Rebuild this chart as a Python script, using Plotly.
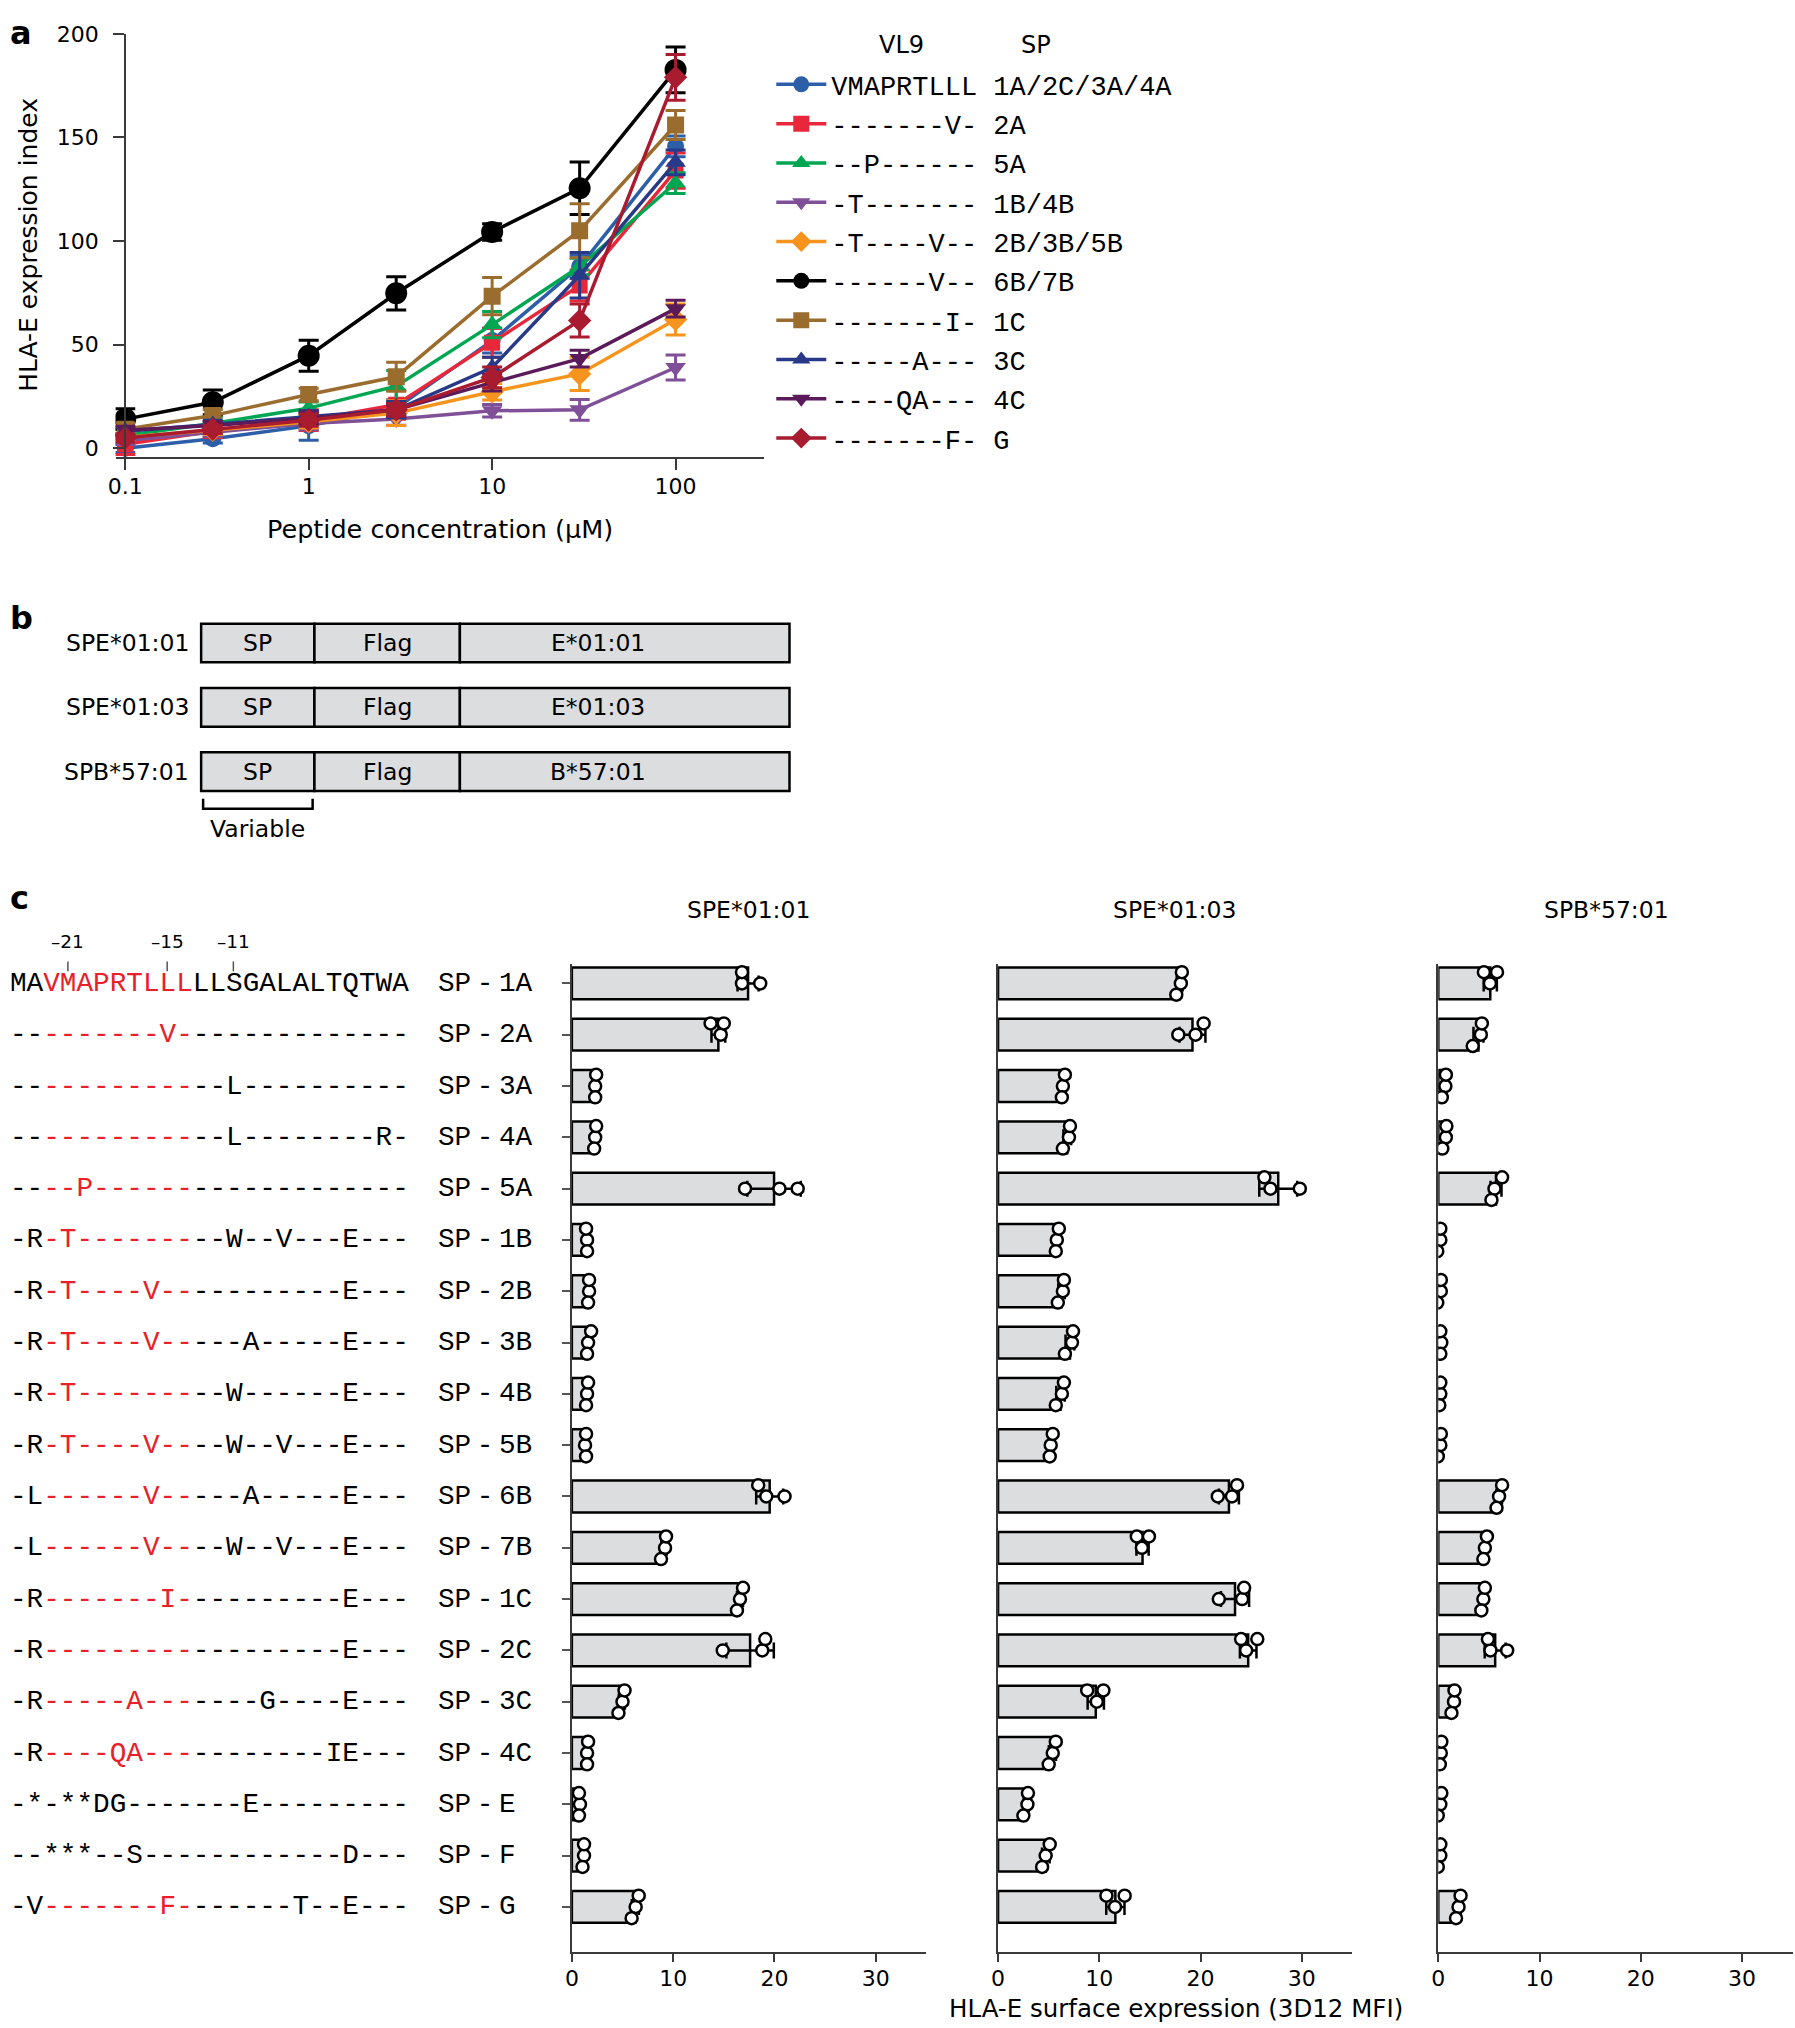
import numpy as np
import plotly.graph_objects as go

W, H = 1795, 2028

SANS = "DejaVu Sans, Liberation Sans, sans-serif"
MONO = "Liberation Mono, DejaVu Sans Mono, monospace"

# ---------------- panel a : VL9 peptide titration ----------------
conc = [0.1, 0.3, 1, 3, 10, 30, 100]
vl9_seq = ["VMAPRTLLL", "-------V-", "--P------", "-T-------", "-T----V--",
           "------V--", "-------I-", "-----A---", "----QA---", "-------F-"]
vl9_sp = ["1A/2C/3A/4A", "2A", "5A", "1B/4B", "2B/3B/5B",
          "6B/7B", "1C", "3C", "4C", "G"]
vl9_mean = [
    [0.0, 4.6, 10.9, 19.4, 52.0, 87.7, 145.7],
    [2.0, 8.2, 13.6, 21.0, 51.0, 78.6, 134.0],
    [6.2, 12.0, 19.4, 30.0, 59.7, 87.7, 128.0],
    [3.8, 7.6, 12.0, 14.1, 18.1, 18.6, 39.0],
    [5.4, 8.7, 12.8, 17.0, 27.3, 35.9, 62.2],
    [14.1, 22.2, 44.7, 74.8, 104.4, 125.5, 182.6],
    [9.2, 15.8, 26.0, 34.5, 73.4, 105.0, 156.0],
    [8.2, 11.5, 15.3, 18.6, 39.0, 83.5, 138.0],
    [8.7, 11.0, 14.5, 18.6, 31.7, 43.3, 67.4],
    [5.0, 9.2, 13.6, 18.6, 34.2, 61.7, 179.0],
]
vl9_err = [
    [2, 2, 7, 4, 6, 5.5, 5],
    [5, 3, 5, 7, 7, 7.5, 8.5],
    [3, 3, 3, 7.5, 6.3, 4, 5],
    [2, 2, 3, 3, 3, 5, 6],
    [2, 2, 3, 6, 4, 8, 7.5],
    [5, 6, 7.5, 8, 4, 12.7, 11],
    [3, 3, 3, 7, 9, 13, 7],
    [2, 2, 3, 4, 5, 11, 6],
    [2, 2, 3, 3, 4, 4, 4],
    [2, 2, 3, 3, 5, 8, 11],
]
colors = ["#2d5ea8", "#e8273a", "#00a651", "#7f4f97", "#f7941d",
          "#000000", "#9a6d2e", "#283a87", "#5b1a59", "#a91b2f"]
symbols = ["circle", "square", "triangle-up", "triangle-down", "diamond",
           "circle", "square", "triangle-up", "triangle-down", "diamond"]
msizes = [17, 16, 18, 18, 18, 22, 17, 18, 18, 18]

# ---------------- panel b : constructs ----------------
constructs = ["SPE*01:01", "SPE*01:03", "SPB*57:01"]
heavy_chain = ["E*01:01", "E*01:03", "B*57:01"]

# ---------------- panel c : signal peptides ----------------
sp_names = ["1A", "2A", "3A", "4A", "5A", "1B", "2B", "3B", "4B", "5B",
            "6B", "7B", "1C", "2C", "3C", "4C", "E", "F", "G"]
sp_seqs = [
    "MAVMAPRTLLLLLSGALALTQTWA",
    "---------V--------------",
    "-------------L----------",
    "-------------L--------R-",
    "----P-------------------",
    "-R-T---------W--V---E---",
    "-R-T----V-----------E---",
    "-R-T----V-----A-----E---",
    "-R-T---------W------E---",
    "-R-T----V----W--V---E---",
    "-L------V-----A-----E---",
    "-L------V----W--V---E---",
    "-R-------I----------E---",
    "-R------------------E---",
    "-R-----A-------G----E---",
    "-R----QA-----------IE---",
    "-*-**DG-------E---------",
    "--***--S------------D---",
    "-V-------F-------T--E---",
]
sp_red = [True] * 16 + [False, False, True]
pos_labels = ["\u201321", "\u201315", "\u201311"]
pos_index = [3, 9, 13]

panels = ["SPE*01:01", "SPE*01:03", "SPB*57:01"]
reps = [
    [[16.8, 16.8, 18.6], [14.7, 13.7, 15.0], [2.3, 2.4, 2.3], [2.3, 2.4, 2.2],
     [17.1, 20.5, 22.3], [1.5, 1.4, 1.5], [1.7, 1.7, 1.6], [1.6, 1.9, 1.5],
     [1.5, 1.6, 1.4], [1.3, 1.4, 1.4], [19.2, 21.0, 18.4], [9.2, 9.3, 8.8],
     [16.6, 16.9, 16.3], [18.8, 14.9, 19.1], [5.0, 5.2, 4.6], [1.5, 1.6, 1.5],
     [0.8, 0.7, 0.7], [1.2, 1.2, 1.05], [6.3, 6.6, 5.9]],
    [[18.05, 18.15, 17.6], [19.5, 17.8, 20.3], [6.4, 6.6, 6.3], [7.0, 7.1, 6.4],
     [26.9, 29.8, 26.3], [5.8, 6.0, 5.7], [6.4, 6.5, 5.9], [7.3, 7.4, 6.6],
     [6.3, 6.5, 5.7], [5.2, 5.4, 5.1], [23.1, 21.7, 23.6], [14.2, 13.7, 14.9],
     [24.1, 21.8, 24.3], [24.5, 25.6, 24.0], [9.75, 8.8, 10.4], [5.4, 5.7, 5.0],
     [2.9, 2.95, 2.5], [4.7, 5.1, 4.35], [11.55, 10.7, 12.5]],
    [[5.1, 5.8, 4.5], [4.2, 4.3, 3.4], [0.7, 0.75, 0.35], [0.75, 0.8, 0.4],
     [5.55, 6.3, 5.25], [0.2, 0.2, -0.1], [0.25, 0.25, -0.1], [0.3, 0.2, 0.2],
     [0.2, 0.2, 0.1], [0.2, 0.25, -0.05], [6.0, 6.3, 5.75], [4.6, 4.8, 4.45],
     [4.45, 4.6, 4.25], [5.15, 6.8, 4.9], [1.55, 1.6, 1.3], [0.25, 0.3, 0.15],
     [0.2, 0.3, -0.05], [0.2, 0.2, -0.05], [2.0, 2.2, 1.75]],
]

for s in sp_seqs:
    assert len(s) == 24, s


def px_x(p):
    return p / W


def px_y(p):
    return 1 - p / H


def swarm(vals, gap=1.2, step=0.22):
    # small vertical spread so replicate dots that overlap stay visible
    placed, offs = [], []
    for v in vals:
        for off in [0, -step, step, -2 * step, 2 * step]:
            if all(abs(v - pv) >= gap or po != off for pv, po in placed):
                break
        placed.append((v, off))
        offs.append(off)
    return offs


fig = go.Figure()

for i in range(len(vl9_seq)):
    fig.add_trace(go.Scatter(
        x=conc, y=vl9_mean[i], mode="lines+markers",
        name=vl9_seq[i] + " " + vl9_sp[i], legendgroup=str(i),
        line=dict(color=colors[i], width=3.5),
        marker=dict(color=colors[i], symbol=symbols[i], size=msizes[i]),
        error_y=dict(type="data", array=vl9_err[i], color=colors[i],
                     thickness=3, width=10),
        xaxis="x", yaxis="y",
    ))

# panel c bars
n = len(sp_names)
rows = list(range(n))
for k, name in enumerate(panels):
    ax = str(k + 2)
    arr = np.array(reps[k])
    mean = arr.mean(axis=1)
    sd = arr.std(axis=1, ddof=1)
    fig.add_trace(go.Bar(
        x=mean, y=rows, orientation="h", width=0.62,
        marker=dict(color="#dcdddf", line=dict(color="black", width=2.5)),
        error_x=dict(type="data", array=sd, color="black", thickness=2.5, width=8),
        showlegend=False, xaxis="x" + ax, yaxis="y" + ax,
    ))
    px_, py_ = [], []
    for r in rows:
        offs = swarm(reps[k][r])
        for v, o in zip(reps[k][r], offs):
            px_.append(v)
            py_.append(r + o)
    fig.add_trace(go.Scatter(
        x=px_, y=py_, mode="markers",
        marker=dict(symbol="circle", size=12, color="white",
                    line=dict(color="black", width=2.5)),
        showlegend=False, xaxis="x" + ax, yaxis="y" + ax,
    ))

axis_line = dict(showline=True, linecolor="#3a3a3a", linewidth=2,
                 showgrid=False, zeroline=False)

layout = dict(
    width=W, height=H, margin=dict(l=0, r=0, t=0, b=0),
    paper_bgcolor="white", plot_bgcolor="white",
    legend=dict(x=px_x(766.7), y=px_y(48.7), xanchor="left", yanchor="top",
                font=dict(family=MONO, size=27, color="black"),
                itemwidth=50, tracegroupgap=1.2, bgcolor="rgba(0,0,0,0)"),
    xaxis=dict(type="log", domain=[px_x(108), px_x(759)], range=[-1.053, 2.48],
               anchor="y", tickvals=[0.1, 1, 10, 100], ticktext=["0.1", "1", "10", "100"],
               ticks="outside", ticklen=11, tickwidth=2, tickcolor="#3a3a3a",
               ticklabelstandoff=-3,
               tickfont=dict(family=SANS, size=22, color="black"), **axis_line),
    yaxis=dict(domain=[px_y(449), px_y(22)], range=[-4.4, 200], anchor="free",
               position=px_x(117.7), tickvals=[0, 50, 100, 150, 200],
               ticks="outside", ticklen=11, tickwidth=2, tickcolor="#3a3a3a",
               ticklabelstandoff=10,
               tickfont=dict(family=SANS, size=22, color="black"), **axis_line),
)

# bar panels: left edge of each panel, 356 px for 35 units of MFI
bar_left = [566.4, 994.5, 1436.7]
for k in range(3):
    ax = str(k + 2)
    layout["xaxis" + ax] = dict(
        domain=[px_x(bar_left[k]), px_x(bar_left[k] + 356)], range=[0, 35],
        anchor="y" + ax, tickvals=[0, 10, 20, 30], ticks="outside", ticklen=8,
        tickwidth=1.5, ticklabelstandoff=-2, tickcolor="#3a3a3a",
        tickfont=dict(family=SANS, size=22, color="black"), **axis_line)
    layout["yaxis" + ax] = dict(
        domain=[px_y(1955.5), px_y(960)], range=[18.88, -0.37], anchor="x" + ax,
        tickvals=rows, showticklabels=False,
        ticks="outside" if k == 0 else "", ticklen=8, tickwidth=1.5,
        tickcolor="#555555", **axis_line)

fig.update_layout(**layout)

ann = []
shapes = []


def text(x, y, s, size, family=SANS, **kw):
    d = dict(x=px_x(x), y=px_y(y), xref="paper", yref="paper", text=s,
             showarrow=False, xanchor="center", yanchor="middle",
             font=dict(family=family, size=size, color="black"))
    d.update(kw)
    ann.append(d)


# panel letters
text(0, 0, "<b>a</b>", 32, xanchor="left", yanchor="top")
text(0, 611, "<b>b</b>", 32, xanchor="left")
text(0, 893, "<b>c</b>", 32, xanchor="left")

# panel a titles and legend header
text(20.7, 235, "HLA-E expression index", 25, textangle=-90)
text(434, 521, "Peptide concentration (\u03bcM)", 25.5)
text(898, 33, "VL9", 24)
text(1033, 33, "SP", 24)

# panel b diagram
row_c = [636, 701, 765.6]
seg_x = [194, 307.8, 453.9, 785]
for r, name in enumerate(constructs):
    yc = row_c[r]
    for j in range(3):
        shapes.append(dict(type="rect", xref="paper", yref="paper",
                           x0=px_x(seg_x[j]), x1=px_x(seg_x[j + 1]),
                           y0=px_y(yc + 19.5), y1=px_y(yc - 19.5),
                           fillcolor="#dcdddf", line=dict(color="black", width=2.5),
                           layer="below"))
    text(183.6, yc, name, 23.5, xanchor="right")
    text(251, yc, "SP", 23.5)
    text(381, yc, "Flag", 23.5)
    text(593, yc, heavy_chain[r], 23.5)

shapes.append(dict(type="path", xref="paper", yref="paper",
                   path="M {:.5f},{:.5f} L {:.5f},{:.5f} L {:.5f},{:.5f} L {:.5f},{:.5f}".format(
                       px_x(196), px_y(793), px_x(196), px_y(803),
                       px_x(306), px_y(803), px_x(306), px_y(793)),
                   line=dict(color="black", width=2.5)))
text(251, 824, "Variable", 23.5)

# panel c sequences
fs = 27.7
char_w = 0.6 * fs
x0 = 0
for lab, idx in zip(pos_labels, pos_index):
    xc = x0 + (idx + 0.5) * char_w + 2
    text(xc, 937, lab, 18.5)
    shapes.append(dict(type="line", xref="paper", yref="paper",
                       x0=px_x(xc), x1=px_x(xc), y0=px_y(957), y1=px_y(967),
                       line=dict(color="#555555", width=1.5)))

for r, seq in enumerate(sp_seqs):
    if sp_red[r]:
        s = seq[:2] + '<span style="color:#e8202a">' + seq[2:11] + "</span>" + seq[11:]
    else:
        s = seq
    ann.append(dict(x=px_x(x0), y=r, xref="paper", yref="y2", text=s, showarrow=False,
                    xanchor="left", yanchor="middle",
                    font=dict(family=MONO, size=fs, color="black")))
    ann.append(dict(x=px_x(430), y=r, xref="paper", yref="y2",
                    text="SP\u2009-\u2009" + sp_names[r], showarrow=False,
                    xanchor="left", yanchor="middle",
                    font=dict(family=MONO, size=fs, color="black")))

title_x = [743.6, 1171.6, 1606]
for k, name in enumerate(panels):
    text(title_x[k], 905, name, 23.5)
text(1173, 2012, "HLA-E surface expression (3D12 MFI)", 24.5)

fig.update_layout(annotations=ann, shapes=shapes)
fig.write_html("out.html", config={"displayModeBar": False},
               post_script="document.body.style.margin='0';")
